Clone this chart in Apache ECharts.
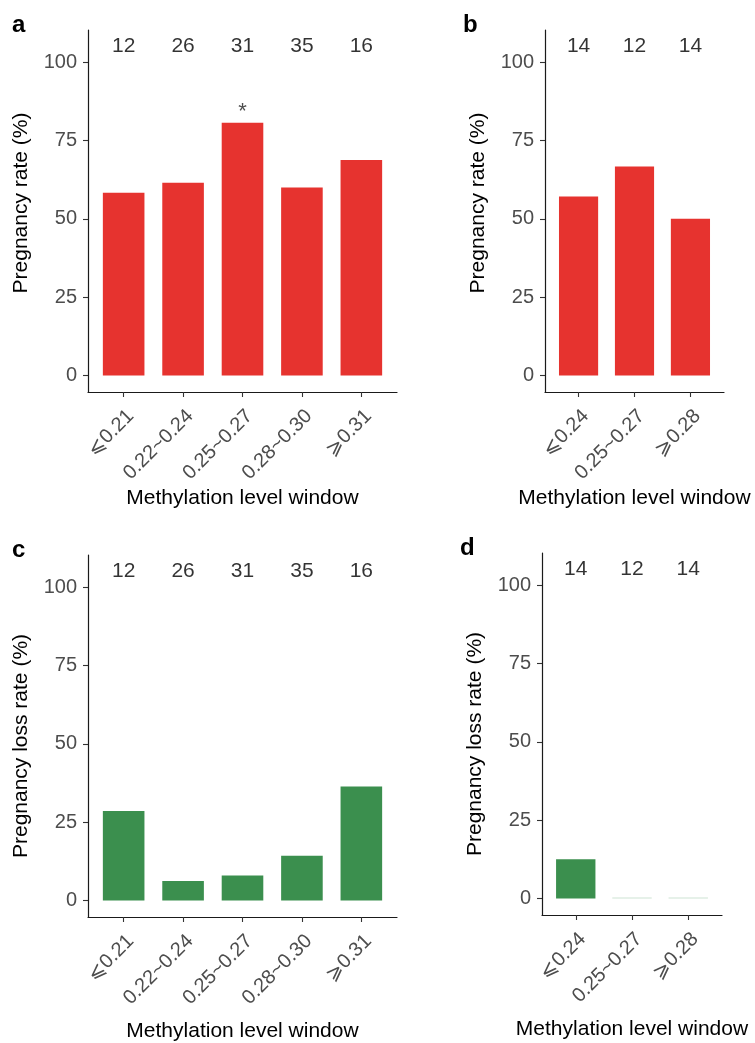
<!DOCTYPE html>
<html>
<head>
<meta charset="utf-8">
<script src="https://cdn.jsdelivr.net/npm/echarts@6/dist/echarts.min.js"></script>
<style>
html,body{margin:0;padding:0;background:#fff;}
#chart{width:755px;height:1043px;}
</style>
</head>
<body>
<div id="chart"></div>
<script>
// ---- data ----
const catsFive = ['⩽0.21', '0.22~0.24', '0.25~0.27', '0.28~0.30', '⩾0.31'];
const catsThree = ['⩽0.24', '0.25~0.27', '⩾0.28'];
const countsA = [12, 26, 31, 35, 16];
const countsB = [14, 12, 14];
const pregRateA = [58.33, 61.54, 80.65, 60.00, 68.75];
const pregRateB = [57.14, 66.67, 50.00];
const lossRateC = [28.57, 6.25, 8.00, 14.29, 36.36];
const lossRateD = [12.50, 0, 0];
const sigA = ['', '', '*', '', ''];
const yTicks = [0, 25, 50, 75, 100];
const countLabelY = 105;

const RED = '#E6332F';
const GREEN = '#3B8F4E';
const FONT = 'Liberation Sans, Arial, Helvetica, sans-serif';

const panels = [
  {letter: 'a', cats: catsFive, counts: countsA, vals: pregRateA, sig: sigA, color: RED,
   yname: 'Pregnancy rate (%)', ypad: [0, 0, 0, 16], xgap: 96,
   grid: {left: 88, top: 30, width: 309, height: 362}},
  {letter: 'b', cats: catsThree, counts: countsB, vals: pregRateB, sig: null, color: RED,
   yname: 'Pregnancy rate (%)', ypad: [0, 0, 0, 16], xgap: 96,
   grid: {left: 545, top: 30, width: 179, height: 362}},
  {letter: 'c', cats: catsFive, counts: countsA, vals: lossRateC, sig: null, color: GREEN,
   yname: 'Pregnancy loss rate (%)', ypad: [0, 20, 0, 0], xgap: 104,
   grid: {left: 88, top: 555, width: 309, height: 362}},
  {letter: 'd', cats: catsThree, counts: countsB, vals: lossRateD, sig: null, color: GREEN,
   yname: 'Pregnancy loss rate (%)', ypad: [0, 20, 0, 0], xgap: 104,
   grid: {left: 542, top: 553, width: 180, height: 362}}
];

const grids = [], xAxes = [], yAxes = [], series = [], graphics = [];
panels.forEach((p, i) => {
  const n = p.cats.length;
  const xs = p.cats.map((_, k) => k + 1);
  grids.push(p.grid);
  xAxes.push({
    type: 'value', gridIndex: i, min: 0.4, max: n + 0.6,
    splitLine: {show: false},
    axisLine: {show: true, onZero: false, lineStyle: {color: '#1a1a1a', width: 1.2}},
    axisTick: {show: true, customValues: xs, length: 5, lineStyle: {color: '#333', width: 1.1}},
    axisLabel: {show: true, customValues: xs, rotate: 45, margin: 14, fontSize: 20,
      verticalAlign: 'top',
      fontFamily: FONT, color: '#4D4D4D', formatter: v => p.cats[Math.round(v) - 1] || ''},
    name: 'Methylation level window', nameLocation: 'middle', nameGap: p.xgap,
    nameTextStyle: {fontSize: 21, fontFamily: FONT, color: '#000'}
  });
  yAxes.push({
    type: 'value', gridIndex: i, min: -5.25, max: 110.25,
    splitLine: {show: false},
    axisLine: {show: true, onZero: false, lineStyle: {color: '#1a1a1a', width: 1.2}},
    axisTick: {show: true, customValues: yTicks, length: 5, lineStyle: {color: '#333', width: 1.1}},
    axisLabel: {show: true, customValues: yTicks, margin: 11, fontSize: 20,
      fontFamily: FONT, color: '#4D4D4D'},
    name: p.yname, nameLocation: 'middle', nameGap: 56,
    nameTextStyle: {fontSize: 21, fontFamily: FONT, color: '#000', padding: p.ypad}
  });
  const bw = p.grid.width / (n + 0.2) * 0.7;
  series.push({
    type: 'bar', xAxisIndex: i, yAxisIndex: i, barWidth: bw, barMinHeight: 1,
    data: p.vals.map((v, k) => v === 0
      ? {value: [xs[k], v], itemStyle: {opacity: 0.25}}
      : {value: [xs[k], v]}),
    itemStyle: {color: p.color}, silent: true
  });
  series.push({
    type: 'scatter', xAxisIndex: i, yAxisIndex: i, symbolSize: 0, silent: true,
    data: p.counts.map((c, k) => [xs[k], countLabelY]),
    label: {show: true, position: 'inside', fontSize: 21, fontFamily: FONT, color: '#000',
      formatter: prm => String(p.counts[prm.dataIndex])}
  });
  if (p.sig) {
    series.push({
      type: 'scatter', xAxisIndex: i, yAxisIndex: i, symbolSize: 0, silent: true,
      data: p.vals.map((v, k) => [xs[k], v + 3.6]),
      label: {show: true, position: 'inside', fontSize: 22, fontFamily: FONT, color: '#222',
        formatter: prm => p.sig[prm.dataIndex]}
    });
  }
  graphics.push({
    type: 'text', left: p.grid.left - (p.letter === 'a' || p.letter === 'c' ? 76 : 82),
    top: p.grid.top - 17,
    style: {text: p.letter, fontSize: 24, fontWeight: 'bold', fontFamily: FONT, fill: '#000'}
  });
});

const chart = echarts.init(document.getElementById('chart'), null, {renderer: 'canvas'});
chart.setOption({
  animation: false,
  backgroundColor: '#fff',
  grid: grids, xAxis: xAxes, yAxis: yAxes, series: series, graphic: graphics
});
</script>
</body>
</html>
